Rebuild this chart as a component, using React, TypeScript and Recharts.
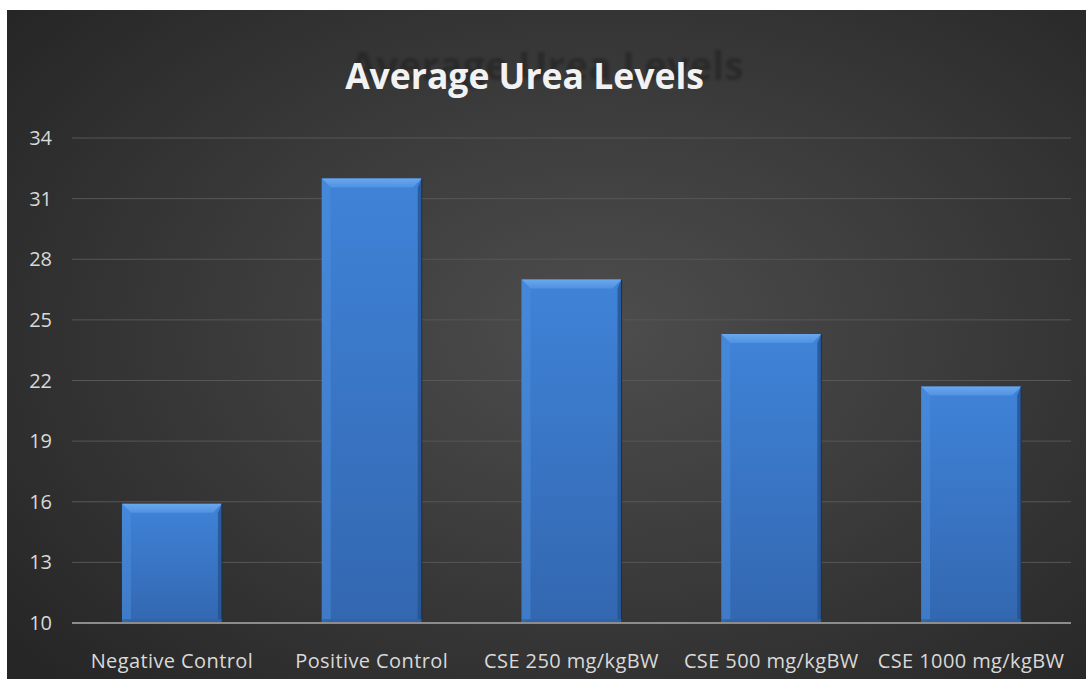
import { Bar, BarChart, CartesianGrid, XAxis, YAxis } from 'recharts'

const categories = [
  'Negative Control',
  'Positive Control',
  'CSE 250 mg/kgBW',
  'CSE 500 mg/kgBW',
  'CSE 1000 mg/kgBW',
]
const ureaValues = [15.9, 32.0, 27.0, 24.3, 21.7]
const yTicks = [10, 13, 16, 19, 22, 25, 28, 31, 34]

const data = categories.map((name, i) => ({ name, urea: ureaValues[i] }))

const FONT = '"Open Sans", sans-serif'

// bevelled bar like the office "3d" preset
const BevelBar = (props: any) => {
  const { x, y, width, height } = props
  if (!height || height <= 0) return null
  const b = 9
  return (
    <g>
      <rect x={x} y={y} width={width} height={height} fill="url(#barBody)" />
      <polygon
        points={`${x},${y} ${x + width},${y} ${x + width - b},${y + b} ${x + b},${y + b}`}
        fill="url(#barTop)"
      />
      <polygon
        points={`${x},${y} ${x + b},${y + b} ${x + b},${y + height - 4} ${x},${y + height}`}
        fill="#4c8ede"
        opacity={0.5}
      />
      <polygon
        points={`${x + width},${y} ${x + width - 4},${y + b} ${x + width - 4},${y + height - 4} ${x + width},${y + height}`}
        fill="#25528f"
        opacity={0.8}
      />
      <line x1={x + width} y1={y} x2={x + width} y2={y + height} stroke="#1a2f4d" strokeWidth={1} />
      <rect x={x} y={y + height - 4} width={width} height={4} fill="#2f63a8" opacity={0.7} />
    </g>
  )
}

const tickStyle = { fill: '#d9d9d9', fontSize: 20, fontFamily: FONT }

export default function App() {
  return (
    <div
      style={{
        position: 'absolute',
        left: 0,
        top: 0,
        width: 1086,
        height: 679,
        background: '#ffffff',
        fontFamily: FONT,
      }}
    >
      <div
        style={{
          position: 'absolute',
          left: 7,
          top: 10,
          width: 1079,
          height: 669,
          background:
            'radial-gradient(ellipse 70% 75% at 55% 48%, #4d4d4d 0%, #3c3c3c 45%, #262626 100%)',
          overflow: 'hidden',
        }}
      >
        <div
          style={{
            position: 'absolute',
            left: 0,
            width: 1079,
            top: 28,
            textAlign: 'center',
            fontSize: 39,
            fontWeight: 700,
            color: '#1c1c1c',
            opacity: 0.5,
            filter: 'blur(1.5px)',
            lineHeight: 'normal',
          }}
        >
          Average Urea Levels
        </div>
        <div
          style={{
            position: 'absolute',
            left: 0,
            width: 1079,
            top: 41,
            textAlign: 'center',
            paddingRight: 44,
            boxSizing: 'border-box',
            fontSize: 35.5,
            fontWeight: 700,
            color: '#f2f2f2',
            lineHeight: 'normal',
          }}
        >
          Average Urea Levels
        </div>
        <BarChart
          width={1079}
          height={669}
          data={data}
          margin={{ top: 128, right: 15, bottom: 0, left: 0 }}
          barCategoryGap="25%"
          style={{ position: 'absolute', left: 0, top: 0 }}
        >
          <defs>
            <linearGradient id="barBody" x1="0" x2="0" y1="0" y2="1">
              <stop offset="0%" stopColor="#3f83d8" />
              <stop offset="100%" stopColor="#3367b0" />
            </linearGradient>
            <linearGradient id="barTop" x1="0" x2="0" y1="0" y2="1">
              <stop offset="0%" stopColor="#6aa7ee" />
              <stop offset="100%" stopColor="#4f92e2" />
            </linearGradient>
          </defs>
          <CartesianGrid vertical={false} stroke="#575757" strokeWidth={1} />
          <XAxis
            dataKey="name"
            height={56}
            axisLine={{ stroke: '#8c8c8c', strokeWidth: 2 }}
            tickLine={false}
            tickSize={0}
            tickMargin={31}
            interval={0}
            tick={{ ...tickStyle, letterSpacing: 0.4 }}
          />
          <YAxis
            width={65}
            domain={[10, 34]}
            ticks={yTicks}
            axisLine={false}
            tickLine={false}
            tickSize={0}
            tickMargin={20}
            tick={tickStyle}
          />
          <Bar dataKey="urea" shape={BevelBar} isAnimationActive={false} />
        </BarChart>
      </div>
    </div>
  )
}
